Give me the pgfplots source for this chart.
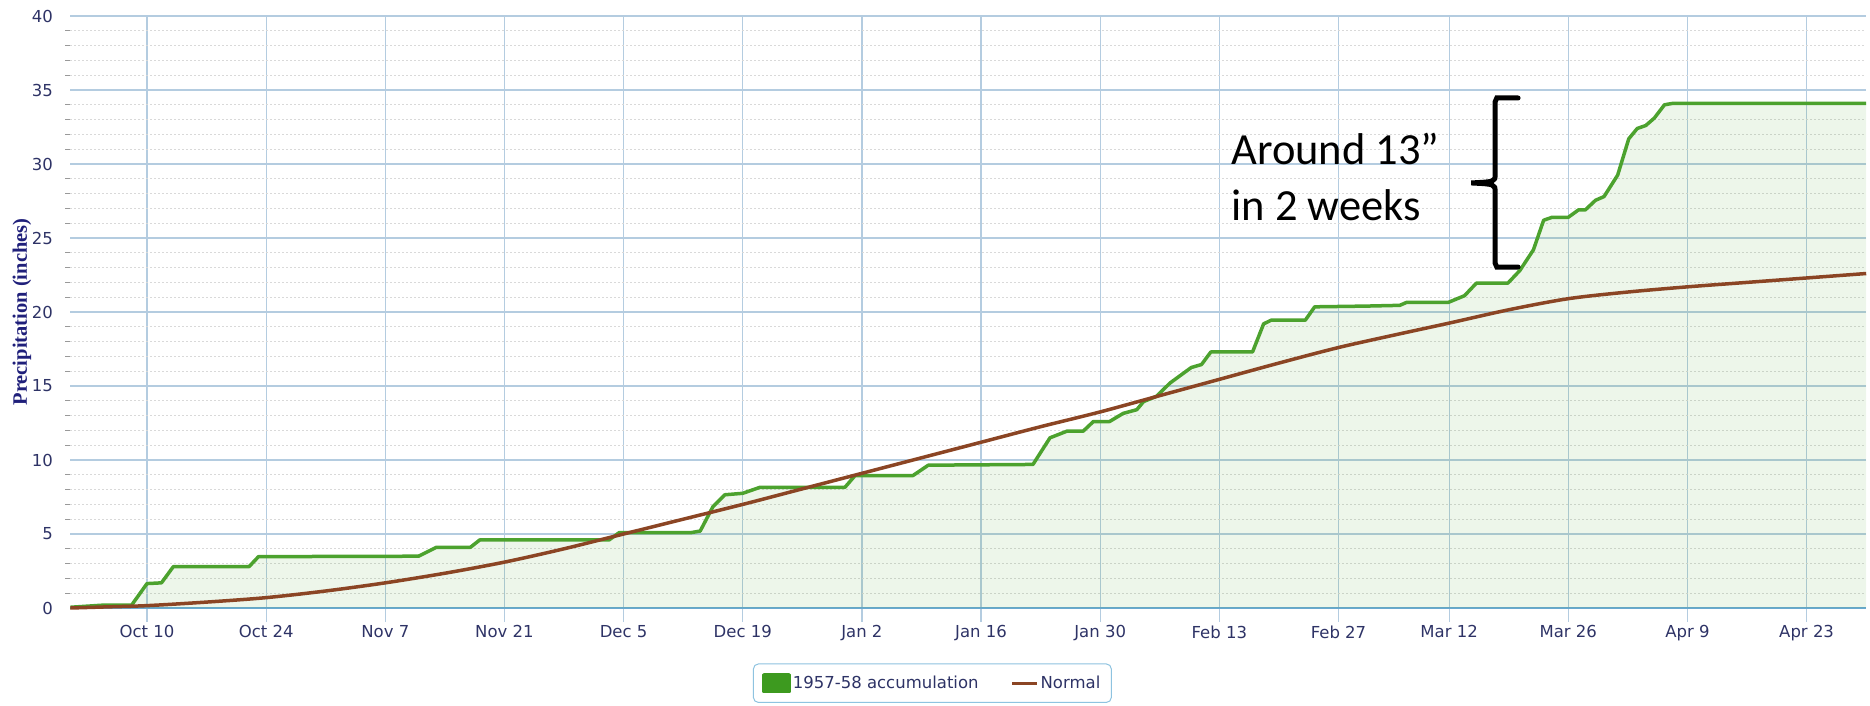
\documentclass[border=0pt]{standalone}
\usepackage{fontspec}
\setmainfont{DejaVu Sans}
\newfontfamily\serifb{Liberation Serif}
\newfontfamily\carlito{Carlito}
\usepackage{pgfplots}
\usepackage{pgfplotstable}
\pgfplotsset{compat=1.18}

\definecolor{accgreen}{HTML}{4CA22E}
\definecolor{leggreen}{HTML}{3D9A1F}
\definecolor{normbrown}{HTML}{8B4524}
\definecolor{gridblue}{HTML}{B4CCE0}
\definecolor{axisblue}{HTML}{6AA9D2}
\definecolor{labnavy}{HTML}{2E3366}
\definecolor{ylabnavy}{HTML}{1F1F7A}
\definecolor{legblue}{HTML}{8EC3E0}

% day of water year (Oct 1 = 1), inches
\pgfplotstableread{
d v
1 0.05
5 0.2
8.2 0.2
10 1.65
11.7 1.7
13.1 2.8
22 2.8
23.1 3.47
41.9 3.5
44 4.1
48 4.1
49.1 4.6
64.3 4.6
65.5 5.1
74 5.1
75 5.2
76.5 6.85
77.9 7.65
80 7.75
82 8.15
92 8.15
93.2 8.95
100 8.95
101.8 9.65
114.1 9.7
116.1 11.5
118.1 11.95
120 11.95
121.2 12.6
123.1 12.6
124.7 13.15
126.3 13.4
127.1 13.95
128.6 14.3
130.2 15.2
132.7 16.25
133.9 16.45
135 17.3
139.9 17.3
141.2 19.2
142.1 19.45
146.1 19.45
147.2 20.35
153.3 20.4
157.2 20.45
158 20.65
162.9 20.65
164.8 21.1
166.2 21.95
169.9 21.95
171.3 22.8
172.9 24.2
174.1 26.2
175.1 26.4
177 26.4
178.2 26.9
179 26.9
180.2 27.55
181.2 27.8
182.8 29.25
184.1 31.7
185.1 32.4
186.1 32.6
187.1 33.1
188.3 34.0
189.3 34.1
212 34.1
}\accum

\pgfplotstableread{
d v
1 0.0
5 0.07
10 0.16
17 0.4
24 0.7
31 1.15
38 1.7
45 2.35
52 3.1
59 4.0
66 5.0
73 6.0
80 7.0
87 8.05
94 9.1
101 10.15
108 11.2
115 12.25
122 13.25
129 14.35
136 15.45
143 16.55
150 17.6
157 18.5
163 19.25
170 20.15
177 20.9
184 21.35
191 21.7
198 22.0
205 22.3
212 22.6
}\normal

\begin{document}
\begin{tikzpicture}
\useasboundingbox (0,0) rectangle (1870pt,705pt);
\begin{axis}[
  at={(70.4pt,97pt)}, anchor=south west,
  scale only axis, width=1795.8pt, height=592pt,
  xmin=1, xmax=212, ymin=0, ymax=40,
  axis x line*=bottom, axis y line*=left,
  x axis line style={draw=axisblue, line width=1.5pt},
  y axis line style={draw=none},
  xtick={10,24,38,52,66,80,94,108,122,136,150,163,177,191,205},
  xticklabels={Oct 10,Oct 24,Nov 7,Nov 21,Dec 5,Dec 19,Jan 2,Jan 16,Jan 30,Feb 13,Feb 27,Mar 12,Mar 26,Apr 9,Apr 23},
  ytick={0,5,...,40},
  minor y tick num=4,
  tick align=outside,
  major tick length=14pt, minor tick length=5pt,
  major x tick style={draw=gridblue, line width=1.2pt},
  major y tick style={draw=none},
  minor y tick style={draw=gray!80, line width=1pt},
  xmajorgrids, ymajorgrids, yminorgrids,
  major grid style={draw=gridblue, line width=1.2pt},
  minor grid style={draw=gray!30, line width=1pt, dash pattern=on 2pt off 2pt},
  /pgf/number format/assume math mode=true,
  ticklabel style={font=\fontsize{16.5}{20}\selectfont, text=labnavy},
  ylabel={Precipitation (inches)},
  every axis y label/.style={at={(axis description cs:-0.027,0.5)}, rotate=90, anchor=center,
    font=\serifb\bfseries\fontsize{20.5}{23}\selectfont, text=ylabnavy},
  legend columns=2,
  legend style={at={(0.48,-0.127)}, anchor=center, draw=legblue, line width=1pt,
    rounded corners=5pt, font=\fontsize{16.5}{20}\selectfont, text=labnavy,
    inner xsep=9pt, inner ysep=9pt,
    /tikz/every even column/.append style={column sep=30pt}},
  clip=false,
]
\addplot[draw=none, fill=accgreen, fill opacity=0.1, forget plot] table[x=d,y=v] {\accum} \closedcycle;
\addplot[accgreen, line width=3.5pt, line join=round,
  legend image code/.code={\fill[leggreen, sharp corners] (0pt,-8.5pt) rectangle (25pt,8.5pt);}]
  table[x=d,y=v] {\accum};
\addlegendentry{1957-58 accumulation}
\addplot[normbrown, line width=3.5pt, smooth,
  legend image code/.code={\draw[normbrown, line width=3pt, sharp corners] (0pt,0pt) -- (25pt,0pt);}]
  table[x=d,y=v] {\normal};
\addlegendentry{Normal}

% annotation
\node[anchor=base west, font=\carlito\fontsize{44.5}{54}\selectfont, inner sep=0pt] at (axis cs:137.4,30.0) {Around 13”};
\node[anchor=base west, font=\carlito\fontsize{44.5}{54}\selectfont, inner sep=0pt] at (axis cs:137.4,26.15) {in 2 weeks};
\draw[line width=5pt, line cap=round] (axis cs:171.1,34.46) -- (axis cs:168.6,34.46) -- (axis cs:168.4,34.2)
  -- (axis cs:168.4,29.3) .. controls (axis cs:168.4,28.8) .. (axis cs:165.6,28.72)
  .. controls (axis cs:168.4,28.64) .. (axis cs:168.4,28.1) -- (axis cs:168.4,23.3)
  -- (axis cs:168.6,23.04) -- (axis cs:171.1,23.04);
\end{axis}
\end{tikzpicture}
\end{document}
